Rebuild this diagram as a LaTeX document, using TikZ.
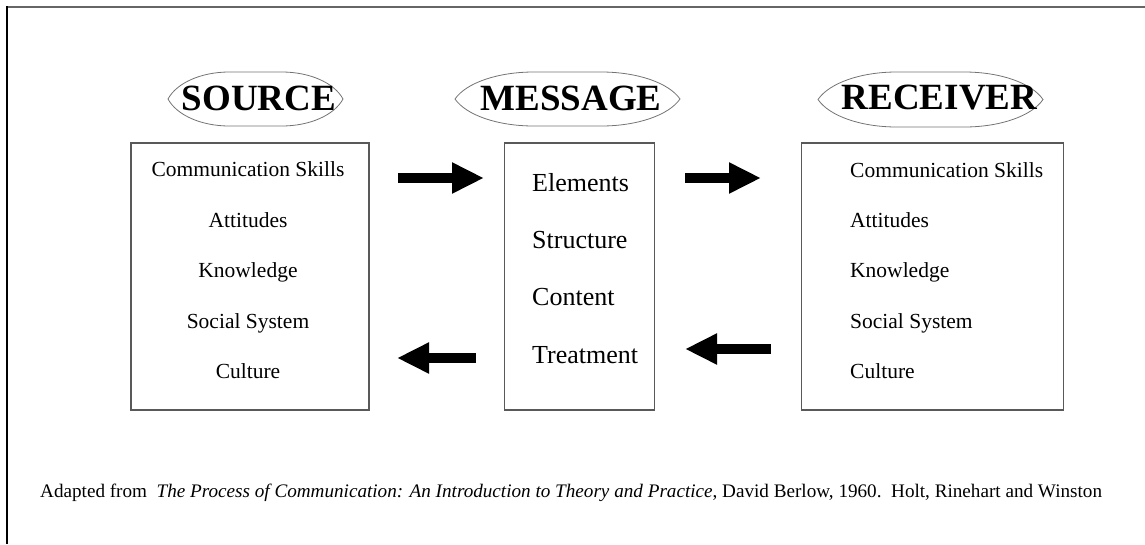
\documentclass[tikz,border=0pt]{standalone}
\usepackage{fontspec}
\setmainfont{Liberation Serif}
\usetikzlibrary{arrows.meta}
\definecolor{framegray}{gray}{0.4}
\definecolor{boxgray}{gray}{0.35}
\definecolor{ovalgray}{gray}{0.45}
% flattened oval drawn round a heading: centre, half width, half height
\newcommand{\ovaloutline}[3]{%
  \begin{scope}[shift={(#1)}]
    \draw[ovalline] (-#2,0)
      .. controls (-0.9*#2,-0.6*#3) and (-0.62*#2,-#3) .. (-0.3*#2,-#3)
      -- (0.3*#2,-#3)
      .. controls (0.62*#2,-#3) and (0.9*#2,-0.6*#3) .. (#2,0)
      .. controls (0.9*#2,0.6*#3) and (0.62*#2,#3) .. (0.3*#2,#3)
      -- (-0.3*#2,#3)
      .. controls (-0.62*#2,#3) and (-0.9*#2,0.6*#3) .. cycle;
  \end{scope}}
\begin{document}
\begin{tikzpicture}[x=1pt,y=-1pt,
  panel/.style={draw=boxgray,line width=1.2pt,minimum width=#1,inner sep=0pt},
  ovalline/.style={draw=ovalgray,line width=0.8pt},
  title/.style={inner sep=0pt,font=\fontsize{37}{40}\selectfont\bfseries},
  item/.style={font=\fontsize{21.5}{24}\selectfont,inner sep=0pt,anchor=base},
  bigitem/.style={font=\fontsize{26}{30}\selectfont,inner sep=0pt,anchor=base west},
  blockarrow/.style={line width=10.5pt,-{Triangle[length=32pt,width=29pt]}},
]
\useasboundingbox (0,0) rectangle (1145,544);
% page frame
\draw[framegray,line width=1.6pt] (6,7) -- (1145,7);
\draw[black,line width=1.4pt] (7,6) -- (7,544);

% heading ovals
\coordinate (osrc) at (255.5,99);
\coordinate (omsg) at (567.5,99);
\coordinate (orcv) at (930.5,99.5);
\ovaloutline{osrc}{87.5}{27}
\ovaloutline{omsg}{112.5}{27}
\ovaloutline{orcv}{112.5}{27.5}

% headings
\node[title] (hsrc) at (259,98) {SOURCE};
\node[title] (hmsg) at (571,98) {MESSAGE};
\node[title] (hrcv) at (939.5,98) {RECEIVER};

% boxes
\node[panel=238pt,minimum height=267pt] (src) at (250,276.5) {};
\node[panel=150pt,minimum height=267pt] (msg) at (579.5,276.5) {};
\node[panel=262pt,minimum height=267pt] (rcv) at (932.5,276.5) {};

% source items
\node[item] (s1) at (248,176) {Communication Skills};
\node[item] (s2) at (248,227) {Attitudes};
\node[item] (s3) at (248,277.5) {Knowledge};
\node[item] (s4) at (248,328) {Social System};
\node[item] (s5) at (248,378.5) {Culture};

% message items
\node[bigitem] (m1) at (532,191) {Elements};
\node[bigitem] (m2) at (532,248) {Structure};
\node[bigitem] (m3) at (532,305) {Content};
\node[bigitem] (m4) at (532,363) {Treatment};

% receiver items
\node[item,anchor=base west] (r1) at (850,177.5) {Communication Skills};
\node[item,anchor=base west] (r2) at (850,227.5) {Attitudes};
\node[item,anchor=base west] (r3) at (850,277.5) {Knowledge};
\node[item,anchor=base west] (r4) at (850,328.5) {Social System};
\node[item,anchor=base west] (r5) at (850,378.5) {Culture};

% arrow ends
\coordinate (a1s) at (398,178);
\coordinate (a1e) at (484,178);
\coordinate (a2s) at (685,178);
\coordinate (a2e) at (761,178);
\coordinate (a3s) at (476,358);
\coordinate (a3e) at (397,358);
\coordinate (a4s) at (771,349);
\coordinate (a4e) at (685,349);
\draw[blockarrow] (a1s) -- (a1e);
\draw[blockarrow] (a2s) -- (a2e);
\draw[blockarrow] (a3s) -- (a3e);
\draw[blockarrow] (a4s) -- (a4e);

% reference line
\node[inner sep=0pt,anchor=base west,font=\fontsize{19.15}{22}\selectfont] (ref) at (40,497)
  {Adapted from \ \textit{The Process of Communication: An Introduction to Theory and Practice}, David Berlow, 1960.\ \ Holt, Rinehart and Winston};
\end{tikzpicture}
\end{document}
